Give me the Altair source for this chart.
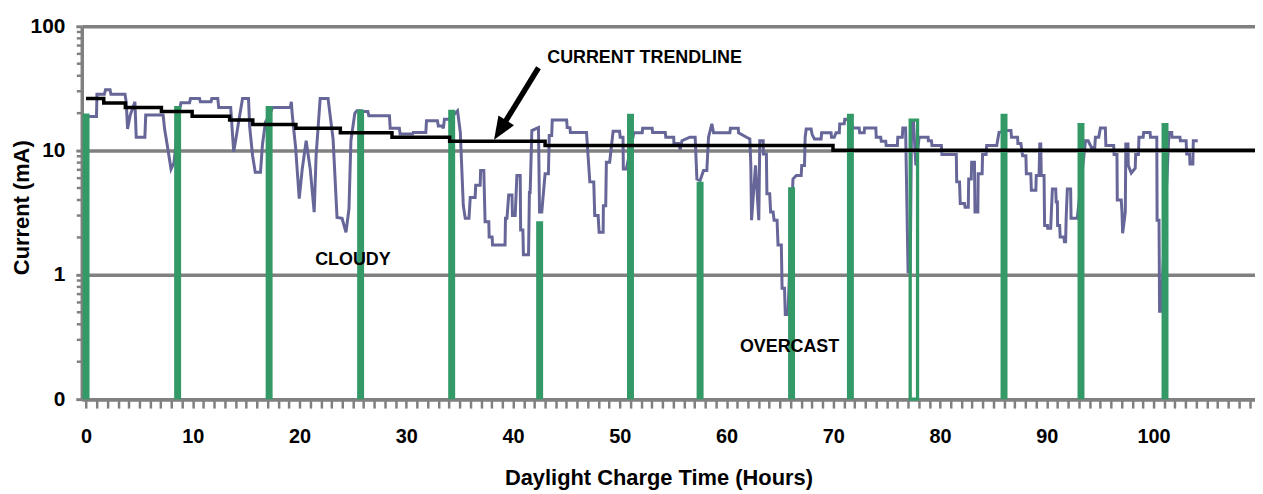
import altair as alt
import pandas as pd

# ---- data ----
blue_hours = [
    0.0, 0.98, 1.02, 1.72, 1.82, 2.25, 2.33, 3.65, 3.77, 3.89, 4.14, 4.58, 4.70, 5.51, 5.59, 7.22, 7.36, 7.59, 7.96, 8.24,
    8.71, 8.89, 9.70, 9.78, 10.63, 10.71, 11.71, 11.78, 12.34, 12.43, 13.55, 13.83, 14.01, 14.29, 14.66, 15.22, 15.32, 15.60, 15.85, 16.34, 16.53, 16.81,
    17.27, 17.46, 19.13, 19.23, 19.32, 19.63, 19.97, 20.25, 20.62, 21.0, 21.37, 21.55, 21.93, 22.67, 23.14, 23.51, 23.98, 24.35, 24.63, 24.81, 25.18, 25.37, 25.84,
    26.02, 26.40, 26.49, 28.42, 28.49, 29.35, 29.42, 30.59, 30.65, 31.83, 31.89, 32.91, 33.0, 33.38, 33.47, 33.57, 34.0, 34.59, 34.80, 35.06, 35.34, 35.52, 35.87, 35.99,
    36.45, 36.5, 36.92, 36.96, 37.26, 37.38, 37.73, 37.76, 38.04, 38.08, 39.25, 39.29, 39.43, 39.59, 39.90, 39.94, 40.2, 40.36, 40.67, 40.71, 40.92, 40.97, 41.45,
    41.53, 41.60, 41.76, 42.38, 42.48, 42.69, 43.0, 43.31, 43.39, 43.62, 43.67, 45.02, 45.07, 45.33, 45.37, 46.88, 47.19, 47.56, 47.65, 47.97, 48.06, 48.44, 48.46,
    48.68, 48.74, 49.05, 49.37, 49.98, 50.03, 50.30, 50.33, 50.61,
    51.32, 52.10, 52.14, 53.03, 53.07, 54.26, 54.31, 55.05, 55.07, 55.51, 55.66, 55.82, 56.56, 57.06, 57.22, 57.52, 57.84, 58.15, 58.31, 58.62, 58.78, 60.31, 60.36,
    61.1, 61.12, 61.87, 62.18, 62.27, 62.34, 62.71, 63.02, 63.11, 63.43, 63.45, 63.73, 63.78, 64.04, 64.13, 64.36, 64.45, 64.73, 64.82, 65.13, 65.2, 65.43, 65.5,
    65.75, 66.22, 66.53, 66.99, 67.04, 67.30, 67.36, 67.46, 67.92, 68.01, 68.23, 68.86, 68.90, 69.79, 69.83, 70.09, 70.25, 70.56, 70.60, 71.02, 71.07, 71.28,
    71.90, 72.42, 72.47, 72.89, 72.93, 73.98, 74.02, 74.44, 74.49, 74.91, 74.95, 76.0, 76.04, 76.46, 76.51, 76.77, 77.0, 77.2, 77.33, 77.51, 77.73, 78.04,
    78.88, 78.9, 79.19, 79.24, 80.12, 80.17, 81.52, 81.56, 81.82, 81.89, 82.29, 82.34, 82.64, 82.68, 82.92, 82.96, 83.22, 83.27, 83.54, 83.57, 83.94, 83.98,
    84.31, 84.36, 85.31, 85.52, 86.33, 86.64, 86.69, 87.26, 87.29, 87.57, 87.73, 88.04, 88.08, 88.50, 88.55, 88.97, 89.01, 89.27, 89.34, 89.43, 89.48, 89.74,
    89.79, 90.06, 90.08, 90.36, 90.52, 90.83, 90.88, 90.99, 91.01, 91.2, 91.25, 91.6, 91.65, 91.76, 91.81, 91.92, 92.23, 92.27, 92.85, 93.62, 93.87, 94.18,
    94.49, 94.55, 94.86, 95.02, 95.48, 95.53, 96.26, 96.30, 96.57, 96.60, 96.97, 97.04, 97.10, 97.35, 97.40, 97.60, 97.63, 97.91, 98.28, 98.32, 98.58, 98.63,
    99.02, 99.07, 99.67, 99.71, 100.30, 100.33, 100.51, 100.56, 100.70, 101.44, 101.70, 101.72, 102.47, 102.51, 103.05, 103.10, 103.37, 103.41, 103.68,
    103.72, 104.14,
]
blue_ma = [
    18.8, 18.8, 28.4, 28.4, 30.8, 30.8, 28.4, 28.4, 24.3, 14.9, 19.3, 24.7, 12.8, 12.8, 19.3, 19.3, 14.9, 11.3, 7.1, 8.0,
    20.0, 24.3, 24.3, 26.2, 26.2, 24.7, 24.7, 26.2, 26.2, 22.2, 22.2, 9.8, 12.0, 17.0, 26.2, 26.2, 15.8, 9.1, 6.7, 6.7, 11.3, 17.0,
    20.0, 22.2, 22.2, 24.7, 19.3, 10.6, 4.1, 7.1, 12.0, 7.1, 3.2, 9.1, 26.2, 26.2, 12.4, 2.9, 2.85, 2.2, 3.4, 12.0, 20.0, 20.9, 20.9,
    20.6, 20.6, 19.1, 19.1, 15.1, 15.1, 13.6, 13.6, 14.0, 14.0, 17.4, 17.4, 15.8, 15.8, 15.1, 17.9, 17.9, 20.0, 20.9, 14.0, 3.6, 2.85, 2.85, 4.2,
    4.2, 5.25, 5.25, 6.9, 6.9, 2.67, 2.67, 2.02, 2.02, 1.74, 1.74, 2.85, 2.85, 4.4, 4.4, 3.0, 3.0, 6.3, 6.3, 2.3, 2.3, 1.45, 1.45,
    4.6, 4.6, 14.5, 15.3, 3.2, 3.2, 6.5, 6.5, 13.2, 13.2, 17.6, 17.6, 15.3, 15.3, 14.0, 14.0, 5.6, 5.6, 3.0, 3.0, 2.2, 2.2, 3.6,
    3.6, 8.05, 8.05, 14.3, 14.3, 12.8, 12.8, 7.1, 7.1,
    13.9, 13.9, 15.1, 15.1, 14.0, 14.0, 12.8, 12.8, 11.4, 11.4, 10.2, 12.0, 12.8, 12.8, 5.9, 5.75, 6.9, 6.9, 12.8, 16.4, 13.9, 13.9, 15.1,
    15.1, 13.9, 12.8, 12.4, 7.8, 2.75, 7.6, 2.75, 12.0, 12.0, 9.4, 9.4, 4.5, 4.5, 3.2, 3.2, 2.75, 2.75, 1.74, 1.74, 0.78, 0.78, 0.48,
    0.48, 5.9, 6.3, 6.3, 7.6, 7.6, 12.8, 14.9, 14.9, 13.5, 12.4, 12.4, 13.9, 13.9, 12.8, 12.8, 13.9, 13.9, 16.4, 16.4, 17.9, 17.9,
    15.2, 15.2, 13.9, 13.9, 15.2, 15.2, 12.8, 12.8, 11.9, 11.9, 11.0, 11.0, 12.8, 12.8, 15.2, 15.2, 1.06, 1.06, 16.8, 16.8, 7.6, 12.8,
    12.8, 12.0, 12.0, 11.0, 11.0, 9.3, 9.3, 5.6, 5.6, 3.75, 3.75, 3.5, 3.5, 5.9, 5.9, 8.05, 8.05, 3.2, 3.2, 6.5, 6.5, 9.3,
    9.3, 11.0, 11.0, 14.0, 14.5, 14.5, 12.8, 12.8, 11.4, 11.4, 9.1, 9.1, 6.5, 6.5, 4.8, 4.8, 6.3, 6.3, 11.3, 11.3, 6.3, 6.3,
    2.5, 2.5, 2.37, 2.37, 4.9, 4.9, 3.85, 3.85, 2.5, 2.5, 2.02, 2.02, 1.85, 1.85, 2.85, 4.9, 4.9, 2.85, 2.85, 12.0, 12.0, 10.6,
    10.6, 12.8, 12.8, 15.2, 15.2, 11.0, 11.0, 9.3, 9.3, 4.0, 4.0, 3.2, 2.16, 3.2, 11.3, 11.3, 7.6, 6.6, 7.2, 9.3, 9.3, 12.8,
    12.8, 14.0, 14.0, 12.8, 12.8, 2.75, 2.75, 0.51, 0.51, 14.0, 14.0, 12.8, 12.8, 12.0, 12.0, 9.4, 9.4, 7.8, 7.8,
    12.0, 12.0,
]

trend_hours = [0, 1.66, 3.68, 7.06, 9.94, 13.45, 15.62, 19.66, 23.82, 28.66, 34.06, 43.0, 69.97, 109.5]
trend_ma = [26.2, 24.1, 22.2, 20.6, 18.9, 17.6, 16.2, 15.1, 13.9, 12.8, 11.9, 11.0, 10.06, 10.06]

bar_hours = [0, 8.58, 17.15, 25.72, 34.25, 42.49, 51.0, 57.52, 66.09, 71.6, 85.99, 93.2, 101.07]
bar_ma = [19.9, 22.8, 22.8, 21.3, 21.3, 2.7, 19.8, 5.6, 5.06, 19.8, 19.8, 16.7, 16.7]
hollow_bar = {"start": 77.2, "end": 77.89, "ma": 17.6}

y_major = [0.1, 1, 10, 100]
y_minor = [0.2, 0.3, 0.4, 0.5, 0.6, 0.7, 0.8, 0.9, 2, 3, 4, 5, 6, 7, 8, 9,
           20, 30, 40, 50, 60, 70, 80, 90]
x_tick_values = list(range(0, 110))

labels = ["CURRENT TRENDLINE", "CLOUDY", "OVERCAST"]
label_hours = [43.2, 25.0, 65.9]
label_ma = [55.5, 1.32, 0.265]
label_align = ["left", "center", "center"]

arrow_hours = [42.38, 38.79]
arrow_ma = [46.4, 14.6]

# ---- styling ----
GREY = "#808080"
GREEN = "#339966"
BLUE = "#666699"
FONT = "Liberation Sans"

xscale = alt.Scale(domain=[-0.4, 109.5], nice=False, zero=False)
yscale = alt.Scale(type="log", domain=[0.1, 100], nice=False)

x_axis = alt.Axis(
    values=x_tick_values,
    labelExpr="datum.value % 10 === 0 ? datum.label : ''",
    grid=False, tickSize=9, tickWidth=2.5, tickColor=GREY,
    domainColor=GREY, domainWidth=3.5,
    labelFont=FONT, labelFontWeight="bold", labelFontSize=20, labelColor="black",
    labelPadding=19, labelFlush=False, labelOverlap=False,
    title="Daylight Charge Time (Hours)", titleFont=FONT, titleFontWeight="bold",
    titleFontSize=22, titleColor="black", titleX=580, titleY=79,
    titleBaseline="middle", titleAlign="center",
)
y_axis = alt.Axis(
    values=y_major,
    labelExpr="datum.value < 0.5 ? '0' : format(datum.value, 'd')",
    grid=True, gridColor=GREY, gridWidth=3.5,
    tickSize=6, tickWidth=3, tickColor=GREY,
    domainColor=GREY, domainWidth=3.5,
    labelFont=FONT, labelFontWeight="bold", labelFontSize=21, labelColor="black",
    labelPadding=11, labelFlush=False,
    title="Current (mA)", titleFont=FONT, titleFontWeight="bold",
    titleFontSize=22, titleColor="black", titleX=-61, titleY=182,
    titleBaseline="middle", titleAlign="center", titleAngle=270,
)


def X(field="hour"):
    return alt.X(f"{field}:Q", scale=xscale, axis=x_axis)


def Y(field="ma"):
    return alt.Y(f"{field}:Q", scale=yscale, axis=y_axis)


blue_df = pd.DataFrame({"hour": blue_hours, "ma": blue_ma})
trend_df = pd.DataFrame({"hour": trend_hours, "ma": trend_ma})
bar_df = pd.DataFrame({"hour": bar_hours, "ma": bar_ma, "base": [0.1] * len(bar_hours)})
hollow_df = pd.DataFrame([{"hour": hollow_bar["start"], "hour2": hollow_bar["end"],
                           "ma": hollow_bar["ma"], "base": 0.1}])
minor_df = pd.DataFrame({"ma": y_minor})
label_df = pd.DataFrame({"text": labels, "hour": label_hours, "ma": label_ma, "align": label_align})
arrow_df = pd.DataFrame({"hour": arrow_hours, "ma": arrow_ma, "order": [0, 1]})

blue = alt.Chart(blue_df).mark_line(color=BLUE, strokeWidth=3).encode(x=X(), y=Y())

minor = alt.Chart(minor_df).mark_rule(color=GREY, strokeWidth=2.5).encode(
    x=alt.value(-5), x2=alt.value(0), y=Y(),
)

bars = alt.Chart(bar_df).mark_rule(color=GREEN, strokeWidth=7, strokeCap="butt").encode(
    x=X(), y=Y(), y2="base:Q",
)

hollow = alt.Chart(hollow_df).mark_rect(fillOpacity=0, stroke=GREEN, strokeWidth=3.3).encode(
    x=X(), x2="hour2:Q", y=Y(), y2="base:Q",
)

trend = alt.Chart(trend_df).mark_line(color="black", strokeWidth=3.5, interpolate="step-after").encode(
    x=X(), y=Y(),
)

shaft = alt.Chart(arrow_df).mark_line(color="black", strokeWidth=5.5).encode(
    x=X(), y=Y(), order="order:Q",
)

head = alt.Chart(arrow_df.iloc[[1]]).mark_point(
    shape="M -0.8 1 L 0 -1 L 0.8 1 Z", size=529, angle=212,
    filled=True, color="black", opacity=1,
).encode(x=X(), y=Y())

texts = []
for _, row in label_df.iterrows():
    texts.append(
        alt.Chart(label_df[label_df["text"] == row["text"]]).mark_text(
            font=FONT, fontWeight="bold", fontSize=18, color="black",
            align=row["align"], baseline="middle",
        ).encode(x=X(), y=Y(), text="text:N")
    )

chart = alt.layer(blue, minor, bars, hollow, trend, shaft, head, *texts).properties(
    width=1180, height=375,
    padding={"left": 74.2, "top": 17, "right": 0, "bottom": 92},
    autosize="none",
    background="white",
).configure_view(stroke=None)

chart.save("out.html", embed_options={"renderer": "svg", "actions": False})
